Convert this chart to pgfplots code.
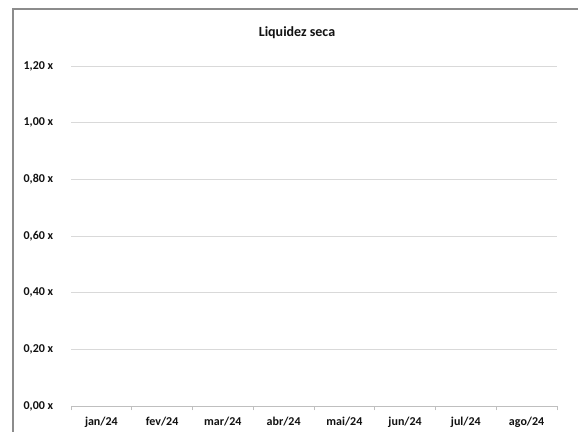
\documentclass[border=0pt]{standalone}
\usepackage{pgfplots}
\pgfplotsset{compat=1.18}
\usepackage{fontspec}
\setmainfont{Carlito}
\definecolor{gridgray}{HTML}{D9D9D9}
\definecolor{axgray}{HTML}{BFBFBF}
\definecolor{framegray}{HTML}{8C8C8C}
\definecolor{txt}{HTML}{111111}
\begin{document}
\begin{tikzpicture}
\useasboundingbox (0pt,0pt) rectangle (578pt,431pt);
\fill[white] (0pt,0pt) rectangle (578pt,431pt);
\draw[framegray, line width=1.3pt] (13pt,-20pt) -- (13pt,422pt) -- (600pt,422pt);
\node[font=\bfseries\fontsize{14}{16}\selectfont, text=txt] at (297pt,398pt) {Liquidez seca};
\begin{axis}[
  at={(71pt,25pt)}, anchor=south west,
  scale only axis, width=486pt, height=340pt,
  xmin=0, xmax=8, ymin=0, ymax=1.2,
  axis x line*=bottom, axis y line*=left,
  x axis line style={axgray, line width=0.8pt},
  y axis line style={draw=none},
  xtick={0.5,1.5,...,7.5},
  xticklabels={jan/24,fev/24,mar/24,abr/24,mai/24,jun/24,jul/24,ago/24},
  minor xtick={0,1,...,8},
  major x tick style={draw=none},
  minor x tick style={axgray, line width=0.8pt},
  minor tick length=4pt, tick align=outside,
  ytick={0,0.2,...,1.2},
  yticklabels={{0,00 x},{0,20 x},{0,40 x},{0,60 x},{0,80 x},{1,00 x},{1,20 x}},
  ytick style={draw=none},
  ymajorgrids, major grid style={gridgray, line width=0.8pt},
  ticklabel style={font=\bfseries\fontsize{12}{14}\selectfont, text=txt},
  xticklabel style={yshift=-3pt},
  yticklabel style={xshift=-10pt},
]
\end{axis}
\end{tikzpicture}
\end{document}
